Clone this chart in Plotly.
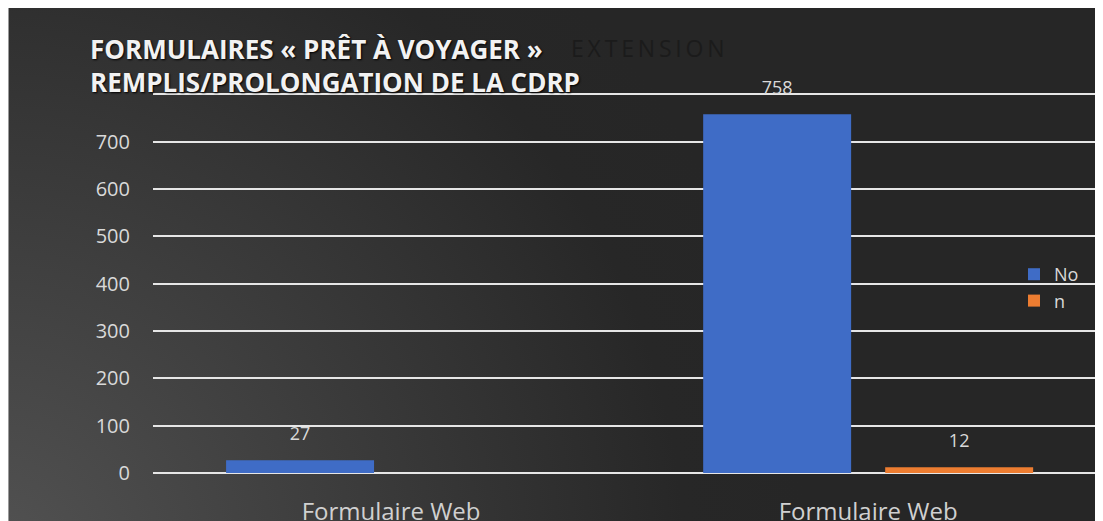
import base64
import plotly.graph_objects as go

# ---- data ----
categories = ["Formulaire Web", "Formulaire Web"]
cat_pos = [0, 1]
series_names = ["No", "n"]
values_no = [27, 758]
values_n = [None, 12]
y_tick_values = [0, 100, 200, 300, 400, 500, 600, 700, 800]
y_tick_labels = ["0", "100", "200", "300", "400", "500", "600", "700", ""]
title_line1 = "FORMULAIRES « PRÊT À VOYAGER »"
title_line2 = "REMPLIS/PROLONGATION DE LA CDRP"
ghost_text = "EXTENSION"

# page offset of the figure (browser body margin)
OFF = 8
W, H = 1103, 521
ML, MR, MT, MB = 145, 0, 84, 56
PW, PH = W - ML - MR, H - MT - MB

def px_x(x):  # page pixel -> paper
    return (x - OFF - ML) / PW

def px_y(y):
    return (H - MB - (y - OFF)) / PH

svg = (
    "<svg xmlns='http://www.w3.org/2000/svg' width='1103' height='521' viewBox='0 0 1103 521' "
    "preserveAspectRatio='none'><defs><radialGradient id='g' gradientUnits='userSpaceOnUse' "
    "cx='-20' cy='560' r='820'><stop offset='0' stop-color='#535353'/>"
    "<stop offset='0.85' stop-color='#272727'/><stop offset='1' stop-color='#262626'/></radialGradient></defs>"
    "<rect width='1103' height='521' fill='url(#g)'/>"
    "<rect x='0' y='0' width='1' height='521' fill='#9a9a9a'/></svg>"
)
bg_src = "data:image/svg+xml;base64," + base64.b64encode(svg.encode()).decode()

font = "Open Sans, Noto Sans, sans-serif"
label_color = "#d9d9d9"
colors = ["#3f6cc6", "#ed7d31"]

fig = go.Figure()
for name, vals, col, grp in [(series_names[0], values_no, colors[0], "a"),
                             (series_names[1], values_n, colors[1], "b")]:
    fig.add_trace(go.Bar(
        x=cat_pos, y=vals, name=name, offsetgroup=grp,
        marker=dict(color=col, line=dict(width=0)),
    ))
for name, vals, grp in [(series_names[0], values_no, "a"), (series_names[1], values_n, "b")]:
    fig.add_trace(go.Scatter(
        x=cat_pos, y=vals, mode="markers+text", offsetgroup=grp, showlegend=False,
        text=["" if v is None else str(v) for v in vals], textposition="top center",
        marker=dict(size=24, color="rgba(0,0,0,0)"),
        textfont=dict(family=font, size=18, color=label_color), cliponaxis=False,
        hoverinfo="skip",
    ))

fig.update_layout(
    width=W, height=H,
    margin=dict(l=ML, r=MR, t=MT, b=MB, pad=0),
    paper_bgcolor="#262626", plot_bgcolor="rgba(0,0,0,0)",
    barmode="group", bargap=0.237, bargroupgap=0.187,
    scattermode="group",
    font=dict(family=font, color=label_color),
    showlegend=True,
    legend=dict(
        x=px_x(1014), y=px_y(256), xanchor="left", yanchor="top",
        bgcolor="rgba(0,0,0,0)", font=dict(family=font, size=18, color=label_color),
        itemwidth=30, tracegroupgap=0,
    ),
    xaxis=dict(
        range=[-0.499, 1.509], tickvals=cat_pos, ticktext=categories,
        showgrid=False, zeroline=False, showline=False, ticks="",
        tickfont=dict(family=font, size=24, color="#d0d0d0"),
        ticklabelstandoff=22,
    ),
    yaxis=dict(
        range=[0, 805], tickvals=y_tick_values, ticktext=y_tick_labels,
        showgrid=True, gridcolor="#e6e6e6", gridwidth=2,
        zeroline=True, zerolinecolor="#e6e6e6", zerolinewidth=2,
        showline=False, ticks="",
        tickfont=dict(family=font, size=20, color=label_color),
        ticklabelstandoff=22,
    ),
    images=[dict(
        source=bg_src, xref="paper", yref="paper",
        x=-ML / PW, y=(H - MB) / PH, sizex=W / PW, sizey=H / PH,
        xanchor="left", yanchor="top", sizing="stretch", layer="below",
    )],
    annotations=[
        dict(text="\u2009".join(ghost_text), xref="paper", yref="paper", x=px_x(569), y=px_y(48),
             xanchor="left", yanchor="middle", showarrow=False,
             font=dict(family=font, size=23, color="#1b1b1b")),
        dict(text="<b>" + title_line1 + "</b>", xref="paper", yref="paper", x=px_x(88), y=px_y(49),
             xanchor="left", yanchor="middle", showarrow=False,
             font=dict(family=font, size=26, color="#f2f2f2", shadow="1px 1px 2px #000000")),
        dict(text="<b>" + title_line2 + "</b>", xref="paper", yref="paper", x=px_x(88), y=px_y(82),
             xanchor="left", yanchor="middle", showarrow=False,
             font=dict(family=font, size=26, color="#f2f2f2", shadow="1px 1px 2px #000000")),
    ],
)

fig.write_html("out.html")
